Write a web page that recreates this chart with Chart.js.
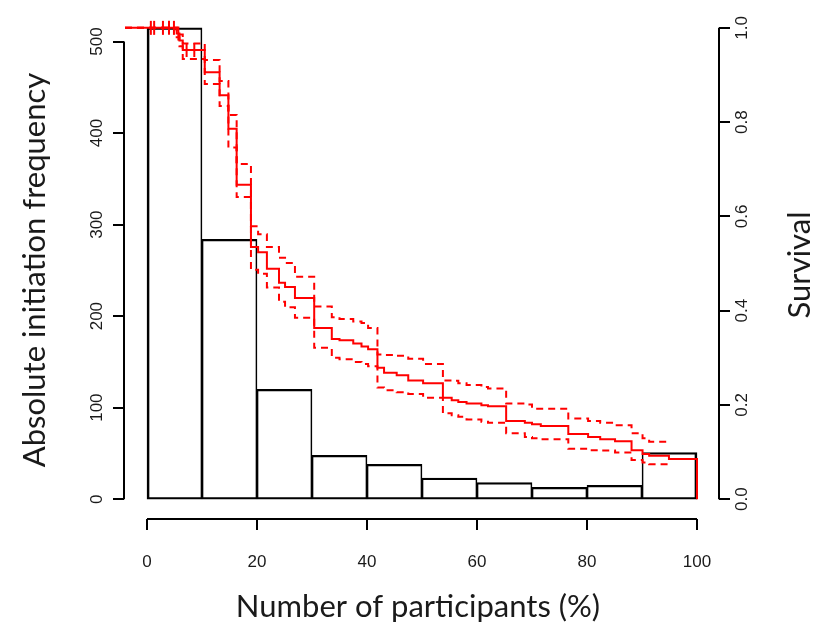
<!DOCTYPE html>
<html>
<head>
<meta charset="utf-8">
<script src="https://cdn.jsdelivr.net/npm/chart.js@4.4.0/dist/chart.umd.min.js"></script>
<style>
  html, body { margin: 0; padding: 0; background: #fff; }
  #wrap { width: 834px; height: 630px; }
</style>
</head>
<body>
<div id="wrap"><canvas id="histChart" width="834" height="630"></canvas></div>
<script>
// histogram, bins of 10 % of participants
var binStarts = [0, 10, 20, 30, 40, 50, 60, 70, 80, 90];
var binCounts = [515, 284, 120, 48, 38, 23, 18, 13, 15, 51];

// survival curve (step times in %), with upper / lower confidence limits
var survTimes  = [5.4, 5.9, 6.5, 10.5, 13.2, 14.8, 16.3, 18.9, 20.2, 21.8, 24.0, 25.1, 26.9,
                  30.4, 33.6, 35.0, 37.5, 39.0, 40.2, 41.9, 43.1, 45.4, 47.5, 50.2, 53.8, 55.4,
                  56.6, 58.1, 60.8, 62.0, 65.3, 68.7, 70.0, 71.6, 76.6, 80.2, 82.4, 85.1, 88.1,
                  90.1, 91.3, 94.9, 100];
var survValues = [0.988, 0.973, 0.953, 0.906, 0.857, 0.786, 0.667, 0.535, 0.524, 0.489, 0.459, 0.450, 0.427,
                  0.363, 0.340, 0.337, 0.330, 0.324, 0.318, 0.279, 0.268, 0.263, 0.252, 0.246, 0.215, 0.210,
                  0.206, 0.203, 0.199, 0.197, 0.166, 0.162, 0.159, 0.155, 0.138, 0.132, 0.127, 0.123, 0.104,
                  0.096, 0.092, 0.085, 0];
var survUpper  = [0.997, 0.986, 0.967, 0.932, 0.887, 0.815, 0.711, 0.579, 0.562, 0.535, 0.512, 0.501, 0.472,
                  0.409, 0.386, 0.382, 0.377, 0.374, 0.363, 0.307, 0.306, 0.304, 0.298, 0.287, 0.252, 0.251,
                  0.246, 0.242, 0.238, 0.235, 0.203, 0.201, 0.192, 0.192, 0.171, 0.166, 0.162, 0.157, 0.140,
                  0.129, 0.122, 0.122, null];
var survLower  = [0.980, 0.961, 0.934, 0.881, 0.834, 0.746, 0.641, 0.487, 0.478, 0.449, 0.419, 0.407, 0.385,
                  0.321, 0.300, 0.297, 0.291, 0.287, 0.282, 0.237, 0.231, 0.227, 0.223, 0.215, 0.182, 0.178,
                  0.175, 0.169, 0.164, 0.162, 0.140, 0.132, 0.129, 0.127, 0.107, 0.104, 0.103, 0.099, 0.083,
                  0.078, 0.074, 0.074, null];
var censorTimes  = [0.7, 1.3, 2.9, 4.0, 4.9, 5.7, 7.2, 8.6];
var censorValues = [1, 1, 1, 1, 1, 0.988, 0.953, 0.953];

// axis ticks
var xTicks = [0, 20, 40, 60, 80, 100];
var freqTicks = [0, 100, 200, 300, 400, 500];
var survTicks = [0, 0.2, 0.4, 0.6, 0.8, 1.0];
var survTickLabels = ['0.0', '0.2', '0.4', '0.6', '0.8', '1.0'];

var xTitle = 'Number of participants (%)';
var freqTitle = 'Absolute initiation frequency';
var survTitle = 'Survival';

var curveStart = -4;

function stepPoints(vals) {
  var pts = [{x: curveStart, y: 1}];
  for (var i = 0; i < survTimes.length; i++) {
    pts.push({x: survTimes[i], y: vals[i]});
  }
  return pts;
}

var histData = binStarts.map(function(b, i) { return {x: b + 5, y: binCounts[i]}; });
var censorData = censorTimes.map(function(t, i) { return {x: t, y: censorValues[i]}; });

var tickFont = '17px "Liberation Sans", Arial, sans-serif';
var titleFont = '31px Lato, "Open Sans", sans-serif';

// base-R style detached axes
var rAxes = {
  id: 'rAxes',
  afterDraw: function(chart) {
    var ctx = chart.ctx;
    var sx = chart.scales.x, sf = chart.scales.yf, ss = chart.scales.ys;
    var area = chart.chartArea;
    var tl = 11;
    ctx.save();
    ctx.strokeStyle = '#000';
    ctx.fillStyle = '#1a1a1a';
    ctx.lineWidth = 2;

    // bottom
    var yb = Math.round(area.bottom) + 1;
    ctx.beginPath();
    ctx.moveTo(sx.getPixelForValue(xTicks[0]), yb);
    ctx.lineTo(sx.getPixelForValue(xTicks[xTicks.length - 1]), yb);
    xTicks.forEach(function(v) {
      var px = Math.round(sx.getPixelForValue(v));
      ctx.moveTo(px, yb);
      ctx.lineTo(px, yb + tl);
    });
    ctx.stroke();
    ctx.font = tickFont;
    ctx.textAlign = 'center';
    ctx.textBaseline = 'middle';
    xTicks.forEach(function(v) {
      ctx.fillText(String(v), sx.getPixelForValue(v), 562);
    });
    ctx.font = titleFont;
    ctx.fillText(xTitle, 418, 607);

    // left
    var xl = Math.round(area.left) - 1;
    ctx.beginPath();
    ctx.moveTo(xl, sf.getPixelForValue(freqTicks[0]));
    ctx.lineTo(xl, sf.getPixelForValue(freqTicks[freqTicks.length - 1]));
    freqTicks.forEach(function(v) {
      var py = Math.round(sf.getPixelForValue(v));
      ctx.moveTo(xl, py);
      ctx.lineTo(xl - tl, py);
    });
    ctx.stroke();
    ctx.font = tickFont;
    freqTicks.forEach(function(v) {
      ctx.save();
      ctx.translate(97, sf.getPixelForValue(v));
      ctx.rotate(-Math.PI / 2);
      ctx.fillText(String(v), 0, 0);
      ctx.restore();
    });
    ctx.save();
    ctx.font = titleFont;
    ctx.translate(35, 270);
    ctx.rotate(-Math.PI / 2);
    ctx.fillText(freqTitle, 0, 0);
    ctx.restore();

    // right
    var xr = Math.round(area.right);
    ctx.beginPath();
    ctx.moveTo(xr, ss.getPixelForValue(survTicks[0]));
    ctx.lineTo(xr, ss.getPixelForValue(survTicks[survTicks.length - 1]));
    survTicks.forEach(function(v) {
      var py = Math.round(ss.getPixelForValue(v));
      ctx.moveTo(xr, py);
      ctx.lineTo(xr + tl, py);
    });
    ctx.stroke();
    ctx.font = tickFont;
    survTicks.forEach(function(v, i) {
      ctx.save();
      ctx.translate(742, ss.getPixelForValue(v));
      ctx.rotate(-Math.PI / 2);
      ctx.fillText(survTickLabels[i], 0, 0);
      ctx.restore();
    });
    ctx.save();
    ctx.font = titleFont;
    ctx.translate(800, 265);
    ctx.rotate(-Math.PI / 2);
    ctx.fillText(survTitle, 0, 0);
    ctx.restore();

    ctx.restore();
  }
};

var ctx = document.getElementById('histChart').getContext('2d');
var histChart = new Chart(ctx, {
  type: 'bar',
  data: {
    datasets: [{
      label: 'Frequency',
      data: histData,
      xAxisID: 'x',
      yAxisID: 'yf',
      backgroundColor: 'rgba(0,0,0,0)',
      borderColor: '#000',
      borderWidth: function(c) {
        var last = binStarts.length - 1;
        return {top: 1.6, bottom: 1.6, left: c.dataIndex === 0 ? 2 : 1, right: c.dataIndex === last ? 2 : 1};
      },
      borderSkipped: false,
      barPercentage: 1,
      categoryPercentage: 1,
      order: 3
    }, {
      type: 'line',
      label: 'Survival',
      data: stepPoints(survValues),
      xAxisID: 'x',
      yAxisID: 'ys',
      stepped: true,
      borderColor: '#ff0000',
      borderWidth: 2,
      pointRadius: 0,
      fill: false,
      order: 1
    }, {
      type: 'line',
      label: 'Upper',
      data: stepPoints(survUpper),
      xAxisID: 'x',
      yAxisID: 'ys',
      stepped: true,
      borderColor: '#ff0000',
      borderWidth: 2,
      borderDash: [7, 5],
      pointRadius: 0,
      fill: false,
      order: 2
    }, {
      type: 'line',
      label: 'Lower',
      data: stepPoints(survLower),
      xAxisID: 'x',
      yAxisID: 'ys',
      stepped: true,
      borderColor: '#ff0000',
      borderWidth: 2,
      borderDash: [7, 5],
      pointRadius: 0,
      fill: false,
      order: 2
    }, {
      type: 'line',
      label: 'Censored',
      data: censorData,
      xAxisID: 'x',
      yAxisID: 'ys',
      showLine: false,
      pointStyle: 'line',
      pointRotation: 90,
      pointRadius: 7,
      pointBorderWidth: 2,
      borderColor: '#ff0000',
      order: 0
    }]
  },
  options: {
    responsive: false,
    animation: false,
    layout: { padding: { left: 125, right: 115, top: 6, bottom: 112 } },
    plugins: {
      legend: { display: false },
      tooltip: { enabled: false }
    },
    scales: {
      x: {
        type: 'linear',
        display: false,
        min: -4,
        max: 104,
        offset: false,
        afterBuildTicks: function(axis) {
          axis.ticks = xTicks.map(function(v) { return {value: v}; });
        }
      },
      yf: {
        type: 'linear',
        display: false,
        position: 'left',
        min: -20.6,
        max: 535.6
      },
      ys: {
        type: 'linear',
        display: false,
        position: 'right',
        min: -0.04,
        max: 1.04
      }
    }
  },
  plugins: [rAxes]
});
</script>
</body>
</html>
